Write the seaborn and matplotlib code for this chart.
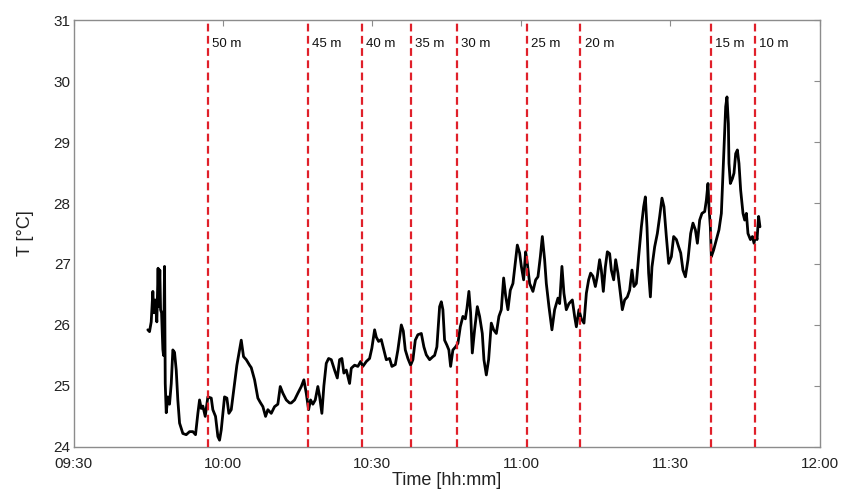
import pandas as pd
import seaborn as sns
import matplotlib.pyplot as plt
import matplotlib.dates as mdates

# minutes after 09:30 and temperature
minutes = [
    14.94, 15.28, 15.62, 15.95, 16.15, 16.43, 16.75, 17.00, 17.15, 17.35, 17.50, 17.70,
    17.96, 18.10, 18.30, 18.44, 18.64, 18.96, 19.30, 19.65, 19.97, 20.31, 20.65,
    20.97, 21.32, 21.98, 22.66, 23.33, 23.99, 24.53, 25.00, 25.34, 25.68, 26.00,
    26.48, 27.01, 27.69, 28.01, 28.55, 29.02, 29.36, 29.70, 30.36, 30.83, 31.23,
    31.71, 32.38, 32.84, 33.38, 33.72, 34.18, 34.73, 35.39, 35.73, 36.40, 37.06,
    37.54, 38.07, 38.61, 39.07, 39.75, 40.42, 41.08, 41.56, 42.09, 42.77, 43.43,
    43.77, 44.44, 45.10, 45.79, 46.31, 46.79, 47.26, 47.66, 48.12, 48.60, 49.12,
    49.47, 49.93, 50.33, 50.81, 51.28, 51.82, 52.48, 53.03, 53.49, 53.95, 54.35,
    54.84, 55.50, 55.84, 56.51, 57.17, 57.71, 58.17, 58.86, 59.52, 59.98, 60.53,
    60.87, 61.33, 61.87, 62.40, 62.88, 63.54, 64.01, 64.69, 65.21, 65.90, 66.30,
    66.70, 67.22, 67.77, 68.23, 68.71, 69.23, 69.92, 70.44, 70.92, 71.59, 72.25,
    72.59, 73.05, 73.60, 73.94, 74.26, 74.60, 75.06, 75.46, 75.81, 76.27, 76.81,
    77.28, 77.76, 78.28, 78.77, 79.09, 79.49, 79.83, 80.17, 80.63, 81.18, 81.64,
    82.18, 82.51, 82.99, 83.45, 83.99, 84.46, 85.00, 85.52, 86.00, 86.47, 86.87,
    87.33, 87.81, 88.34, 88.88, 89.22, 89.68, 90.03, 90.49, 90.89, 91.23, 91.70,
    92.36, 92.91, 93.37, 93.85, 94.25, 94.71, 95.05, 95.58, 96.18, 96.72, 97.39,
    97.73, 98.19, 98.59, 99.07, 99.60, 100.28, 100.74, 101.09, 101.61, 102.09,
    102.62, 103.10, 103.56, 103.96, 104.42, 104.91, 105.31, 105.77, 106.11, 106.51,
    106.92, 107.32, 107.78, 108.12, 108.59, 108.99, 109.45, 109.93, 110.33, 110.80,
    111.34, 111.80, 112.27, 112.67, 113.15, 113.61, 114.16, 114.62, 114.96, 115.29,
    115.62, 115.97, 116.29, 116.83, 117.37, 117.84, 118.30, 118.70, 119.18, 119.65,
    120.19, 120.65, 121.20, 121.66, 122.07, 122.52, 123.01, 123.53, 124.07, 124.53,
    125.02, 125.42, 125.88, 126.34, 126.89, 127.23, 127.55, 127.75, 128.03, 128.23,
    128.69, 129.24, 129.76, 130.24, 130.57, 130.91, 131.11, 131.37, 131.65, 131.77,
    132.05, 132.46, 132.78, 133.12, 133.46, 133.78, 134.12, 134.59, 134.93, 135.27,
    135.59, 136.08, 136.48, 136.81, 137.15, 137.41, 137.73, 138.00,
]
temps = [
    25.92, 25.89, 26.05, 26.55, 26.20, 26.41, 26.05, 26.93, 26.30, 26.90, 26.25, 26.20,
    25.60, 25.50, 26.96, 25.04, 24.56, 24.82, 24.70, 25.04, 25.59, 25.55, 25.26,
    24.77, 24.39, 24.22, 24.20, 24.25, 24.25, 24.20, 24.55, 24.77, 24.63, 24.67,
    24.50, 24.82, 24.80, 24.61, 24.50, 24.17, 24.11, 24.28, 24.82, 24.80, 24.55,
    24.61, 25.04, 25.34, 25.59, 25.75, 25.48, 25.43, 25.34, 25.30, 25.10, 24.80,
    24.73, 24.66, 24.50, 24.61, 24.55, 24.66, 24.70, 24.99, 24.88, 24.77, 24.72,
    24.72, 24.77, 24.88, 24.99, 25.10, 24.88, 24.61, 24.77, 24.70, 24.77, 24.99,
    24.83, 24.55, 25.00, 25.37, 25.45, 25.43, 25.26, 25.13, 25.43, 25.45, 25.21,
    25.26, 25.04, 25.29, 25.34, 25.32, 25.40, 25.32, 25.40, 25.45, 25.62, 25.92,
    25.80, 25.73, 25.76, 25.59, 25.43, 25.45, 25.32, 25.35, 25.59, 26.00, 25.90,
    25.59, 25.45, 25.34, 25.43, 25.75, 25.84, 25.86, 25.64, 25.51, 25.43, 25.48,
    25.50, 25.64, 26.30, 26.38, 26.25, 25.75, 25.67, 25.59, 25.32, 25.59, 25.64,
    25.70, 25.97, 26.14, 26.10, 26.27, 26.55, 26.20, 25.54, 25.92, 26.30, 26.14,
    25.86, 25.43, 25.18, 25.43, 26.03, 25.92, 25.86, 26.14, 26.25, 26.77, 26.48,
    26.25, 26.57, 26.68, 27.07, 27.31, 27.18, 26.96, 26.74, 27.20, 27.01, 26.68,
    26.55, 26.74, 26.79, 27.12, 27.45, 27.07, 26.68, 26.30, 25.92, 26.25, 26.44,
    26.35, 26.96, 26.52, 26.25, 26.35, 26.41, 26.14, 25.97, 26.25, 26.10,
    26.03, 26.52, 26.74, 26.85, 26.80, 26.63, 26.80, 27.07, 26.90, 26.55,
    26.95, 27.20, 27.17, 26.90, 26.74, 27.07, 26.85, 26.52, 26.25, 26.41,
    26.46, 26.57, 26.90, 26.63, 26.68, 27.12, 27.61, 27.94, 28.10, 27.60,
    26.85, 26.46, 26.95, 27.28, 27.50, 27.78, 28.08, 27.94, 27.45, 27.01,
    27.12, 27.45, 27.40, 27.28, 27.18, 26.90, 26.79, 27.07, 27.50, 27.67,
    27.56, 27.34, 27.72, 27.83, 27.86, 28.05, 28.32, 27.94, 27.60, 27.12,
    27.23, 27.40, 27.56, 27.83, 28.49, 29.20, 29.58, 29.74, 29.30, 28.65,
    28.32, 28.40, 28.49, 28.81, 28.87, 28.65, 28.21, 27.83, 27.72, 27.83,
    27.50, 27.40, 27.45, 27.34, 27.50, 27.40, 27.78, 27.61,
]

# depth changes (minutes after 09:30)
depth_minutes = [27.1, 47.1, 58.0, 67.9, 77.1, 91.1, 101.9, 128.1, 137.0]
depth_labels = ['50 m', '45 m', '40 m', '35 m', '30 m', '25 m', '20 m', '15 m', '10 m']

start = pd.Timestamp('2020-01-01 09:30')
df = pd.DataFrame({
    'time': start + pd.to_timedelta(minutes, unit='min'),
    'T': temps,
})

sns.set_style('white')
plt.rcParams['font.family'] = ['Liberation Sans', 'DejaVu Sans']

fig = plt.figure(figsize=(8.45, 4.9), dpi=100)
ax = fig.add_axes([0.087, 0.088, 0.883, 0.871])

sns.lineplot(data=df, x='time', y='T', ax=ax, color='black',
             linewidth=2.0, estimator=None, sort=False, zorder=2)

for m, lab in zip(depth_minutes, depth_labels):
    t = start + pd.Timedelta(minutes=m)
    ax.axvline(t, color='#e0202a', linestyle=(0, (3.5, 2)), linewidth=1.6, zorder=3)
    ax.annotate(lab, xy=(t, 30.6), xytext=(3, 0), textcoords='offset points',
                va='center', ha='left', fontsize=9.5, color='#111')

ax.set_xlim(start, start + pd.Timedelta(minutes=150))
ax.set_ylim(24, 31)
ax.xaxis.set_major_locator(mdates.MinuteLocator(byminute=[0, 30]))
ax.xaxis.set_major_formatter(mdates.DateFormatter('%H:%M'))

for s in ax.spines.values():
    s.set_color('#8c8c8c')
    s.set_linewidth(1.0)
ax.tick_params(direction='in', length=4, color='#8c8c8c', labelsize=11,
               labelcolor='#222', top=True, right=True, pad=2)
ax.tick_params(axis='x', pad=7)

ax.set_xlabel('Time [hh:mm]', fontsize=13, color='#222', labelpad=1)
ax.set_ylabel('T [°C]', fontsize=13, color='#222', labelpad=14)

fig.savefig('out.png', dpi=100)
